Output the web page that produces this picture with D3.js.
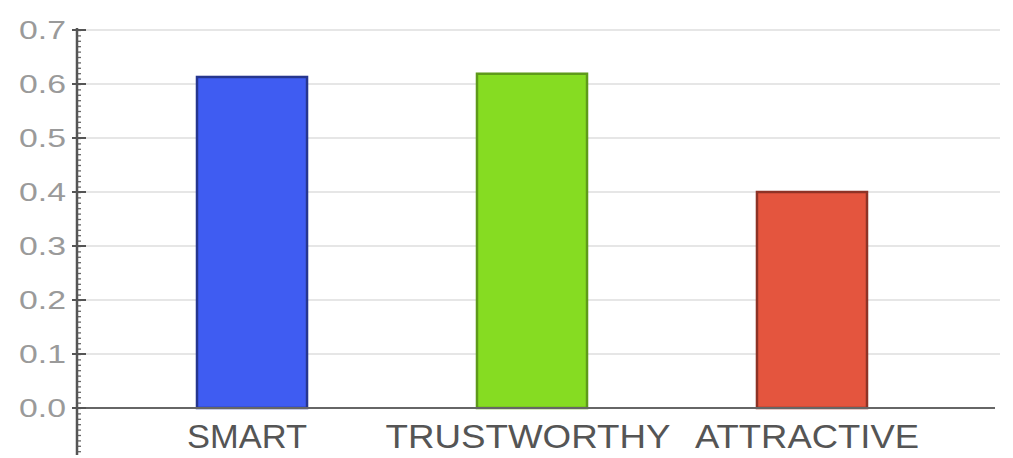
<!DOCTYPE html>
<html>
<head>
<meta charset="utf-8">
<script src="https://cdn.jsdelivr.net/npm/d3@7"></script>
<style>
  body { margin: 0; background: #fff; }
  text { font-family: "Liberation Sans", Arial, sans-serif; }
</style>
</head>
<body>
<div class="chart"></div>
<script>
var categories = ["SMART", "TRUSTWORTHY", "ATTRACTIVE"];
var values = [0.613, 0.619, 0.400];
var colors = ["#3f5cf2", "#86dc22", "#e4553e"];
var edges = ["#26368f", "#5e9a1a", "#8e3326"];
var yTicks = [0, 0.1, 0.2, 0.3, 0.4, 0.5, 0.6, 0.7];

var width = 1013
var height = 458

var svg = d3.select(".chart").append("svg")
    .attr("width", width)
    .attr("height", height);

var y = d3.scaleLinear().domain([0, 0.7]).range([408, 30]);
var x = d3.scaleBand().domain(categories).range([57, 1007]).paddingInner(0.607).paddingOuter(0.5);

// grid lines
svg.selectAll(".grid").data(yTicks.slice(1))
  .enter().append("line")
    .attr("x1", 80).attr("x2", 1000)
    .attr("y1", function(d){ return y(d) })
    .attr("y2", function(d){ return y(d) })
    .attr("stroke", "#e6e6e6")
    .attr("stroke-width", 2);

// bars
svg.selectAll(".bar").data(values)
  .enter().append("rect")
    .attr("x", function(d, i){ return x(categories[i]) })
    .attr("width", x.bandwidth())
    .attr("y", function(d){ return y(d) })
    .attr("height", function(d){ return y(0) - y(d) })
    .attr("fill", function(d, i){ return colors[i] })
    .attr("stroke", function(d, i){ return edges[i] })
    .attr("stroke-width", 2.5);

// x axis baseline
svg.append("line")
  .attr("x1", 77).attr("x2", 995)
  .attr("y1", y(0)).attr("y2", y(0))
  .attr("stroke", "#666").attr("stroke-width", 2);

// y axis with minor ticks
var yAxis = d3.axisRight(y).tickValues(d3.range(-0.08, 0.701, 0.01))
  .tickSize(4).tickFormat("");
var ga = svg.append("g").attr("transform", "translate(77,0)").call(yAxis);
ga.select(".domain").remove();
ga.selectAll("line").attr("stroke", "#666").attr("stroke-width", 1.3);

svg.append("line")
  .attr("x1", 77).attr("x2", 77)
  .attr("y1", 28).attr("y2", 455)
  .attr("stroke", "#555").attr("stroke-width", 2.5);

svg.selectAll(".major").data(yTicks)
  .enter().append("line")
    .attr("x1", 72).attr("x2", 86)
    .attr("y1", function(d){ return y(d) })
    .attr("y2", function(d){ return y(d) })
    .attr("stroke", "#555").attr("stroke-width", 2);

svg.selectAll(".ylab").data(yTicks)
  .enter().append("text")
    .attr("x", 66)
    .attr("y", function(d){ return y(d) })
    .attr("dy", "0.36em")
    .attr("text-anchor", "end")
    .attr("fill", "#9a9a9a")
    .style("font-size", "25px")
    .attr("textLength", 47)
    .attr("lengthAdjust", "spacingAndGlyphs")
    .text(function(d){ return d3.format(".1f")(d) });

var labelWidth = [120, 285, 224];
var labelShift = [-5, -4, -5];
svg.selectAll(".xlab").data(categories)
  .enter().append("text")
    .attr("x", function(d, i){ return x(d) + x.bandwidth() / 2 + labelShift[i] })
    .attr("y", 448)
    .attr("text-anchor", "middle")
    .attr("fill", "#555")
    .style("font-size", "33px")
    .attr("textLength", function(d, i){ return labelWidth[i] })
    .attr("lengthAdjust", "spacingAndGlyphs")
    .text(function(d){ return d });
</script>
</body>
</html>
